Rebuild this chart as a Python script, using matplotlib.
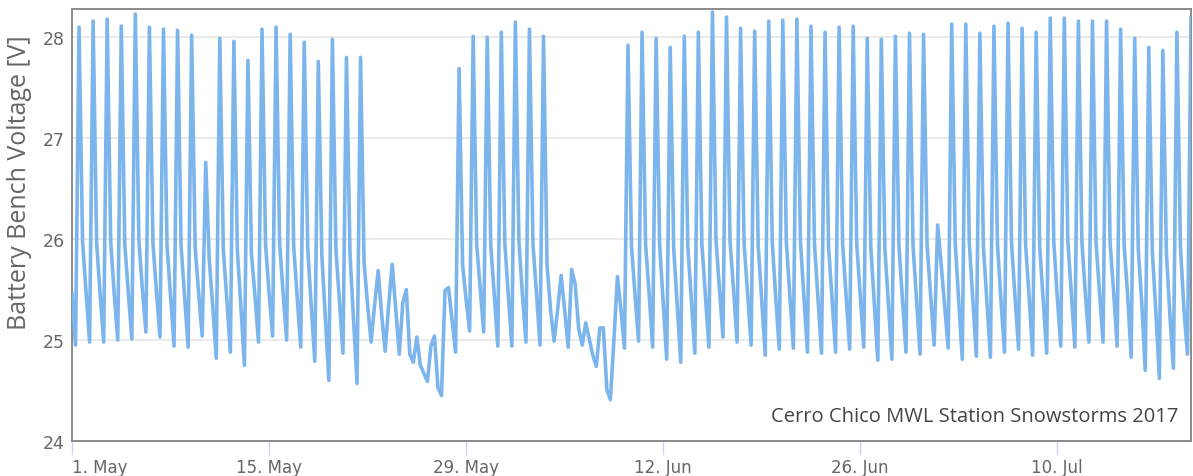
import numpy as np
import pandas as pd
import matplotlib
matplotlib.use("Agg")
import matplotlib.pyplot as plt

# Readings every 6 hours, one entry per day (1 May .. 19 Jul 2017)
night_00 = [
    25.46, 25.47, 25.45, 25.46, 25.47, 25.50, 25.48, 25.44, 25.43, 25.46,
    25.33, 25.40, 25.33, 25.44, 25.47, 25.46, 25.42, 25.33, 25.22, 25.38,
    25.21, 25.35, 25.25, 25.30, 24.86, 24.67, 24.53, 25.20, 25.40, 25.52,
    25.45,
    25.44, 25.45, 25.46, 25.30, 25.30, 25.11, 24.85, 24.51, 25.30, 25.45,
    25.47, 25.38, 25.34, 25.40, 25.44, 25.50, 25.50, 25.46, 25.40, 25.41,
    25.44, 25.43, 25.41, 25.40, 25.43, 25.44, 25.36, 25.36, 25.40, 25.40,
    25.45, 25.33, 25.39, 25.40, 25.38, 25.39, 25.42, 25.43, 25.39, 25.42,
    25.46, 25.45, 25.48, 25.48, 25.44, 25.37, 25.29, 25.25, 25.30,
]
morning_06 = [
    24.95, 24.98, 24.98, 25.00, 25.01, 25.08, 25.03, 24.94, 24.93, 25.04,
    24.82, 24.88, 24.75, 24.98, 25.04, 25.00, 24.93, 24.79, 24.60, 24.87,
    24.57, 24.98, 24.89, 24.86, 24.78, 24.59, 24.45, 24.88, 25.09, 25.08,
    24.94,
    24.94, 24.98, 24.95, 24.99, 24.93, 24.95, 24.74, 24.41, 24.92, 24.99,
    24.93, 24.81, 24.78, 24.87, 24.93, 25.03, 24.98, 24.95, 24.85, 24.91,
    24.92, 24.88, 24.87, 24.88, 24.91, 24.93, 24.80, 24.81, 24.88, 24.86,
    24.95, 24.92, 24.81, 24.84, 24.83, 24.88, 24.91, 24.85, 24.87, 24.94,
    24.93, 24.98, 24.98, 24.94, 24.83, 24.70, 24.62, 24.72, 24.86,
]
noon_12 = [
    28.10, 28.16, 28.18, 28.11, 28.23, 28.10, 28.08, 28.07, 28.02, 26.76,
    27.99, 27.96, 27.77, 28.08, 28.10, 28.03, 27.95, 27.76, 27.98, 27.80,
    27.80, 25.35, 25.35, 25.37, 25.03, 24.94, 25.49, 27.69, 28.01, 28.00,
    28.05,
    28.15, 28.08, 28.01, 25.30, 25.70, 25.17, 25.12, 25.00, 27.92, 28.05,
    27.99, 27.90, 28.01, 28.05, 28.25, 28.20, 28.09, 28.06, 28.16, 28.17,
    28.18, 28.11, 28.05, 28.10, 28.11, 27.99, 27.98, 28.01, 28.04, 28.03,
    26.14, 28.13, 28.13, 28.04, 28.11, 28.14, 28.09, 28.05, 28.19, 28.19,
    28.16, 28.16, 28.16, 28.08, 27.99, 27.90, 27.87, 28.05, 28.19,
]
evening_18 = [
    25.98, 25.96, 25.97, 25.95, 25.99, 25.96, 25.94, 25.93, 25.92, 25.80,
    25.90, 25.88, 25.85, 25.95, 25.96, 25.93, 25.90, 25.84, 25.90, 25.85,
    25.77, 25.69, 25.75, 25.50, 24.75, 25.04, 25.52, 25.74, 25.95, 25.94,
    25.96,
    25.98, 25.95, 25.74, 25.64, 25.55, 25.01, 25.12, 25.63, 25.93, 25.95,
    25.94, 25.90, 25.93, 25.95, 26.00, 25.98, 25.95, 25.94, 25.97, 25.97,
    25.98, 25.95, 25.93, 25.95, 25.96, 25.92, 25.91, 25.93, 25.94, 25.94,
    25.75, 25.96, 25.96, 25.93, 25.95, 25.96, 25.94, 25.93, 25.98, 25.98,
    25.97, 25.97, 25.97, 25.94, 25.91, 25.88, 25.87, 25.93,
]

tick_dates = ["2017-05-01", "2017-05-15", "2017-05-29",
              "2017-06-12", "2017-06-26", "2017-07-10"]
tick_labels = ["1. May", "15. May", "29. May", "12. Jun", "26. Jun", "10. Jul"]
y_ticks = [24, 25, 26, 27, 28]
note = "Cerro Chico MWL Station Snowstorms 2017"

# interleave into one 6-hourly series
volts = []
for i in range(len(noon_12)):
    volts += [night_00[i], morning_06[i], noon_12[i]]
    if i < len(evening_18):
        volts.append(evening_18[i])
times = pd.date_range("2017-05-01 00:00", periods=len(volts), freq="6h")

fig = plt.figure(figsize=(11.93, 4.77), dpi=100)
ax = fig.add_axes([72 / 1193, 35 / 477, 1119 / 1193, 432 / 477])

ax.plot(times, volts, color="#7cb5ec", lw=2.6, solid_joinstyle="round", zorder=3)

ax.set_xlim(times[0], times[-1])
ax.set_ylim(24, 28.28)
ax.set_yticks(y_ticks)
ax.set_yticklabels([str(v) for v in y_ticks])
for v in y_ticks[1:]:
    ax.axhline(v, color="#e6e6e6", lw=1.2, zorder=1)

ax.set_xticks(pd.to_datetime(tick_dates))
ax.set_xticklabels(tick_labels)
ax.get_xticklabels()[0].set_horizontalalignment("left")

ax.tick_params(axis="x", direction="out", length=10, width=1, color="#ccd6eb",
               labelsize=12, labelcolor="#666666", pad=2)
ax.tick_params(axis="y", length=0, labelsize=12.5, labelcolor="#666666", pad=5)

for sp in ax.spines.values():
    sp.set_color("#8a8a8a")
    sp.set_linewidth(1.4)

ax.set_ylabel("Battery Bench Voltage [V]", fontsize=18, color="#666666",
              family="Open Sans")
ax.yaxis.set_label_coords(-0.036, 0.6)

ax.text(0.989, 0.035, note, transform=ax.transAxes, ha="right", va="bottom",
        fontsize=14.5, color="#444444", family="Open Sans")

fig.savefig("out.png", dpi=100)
